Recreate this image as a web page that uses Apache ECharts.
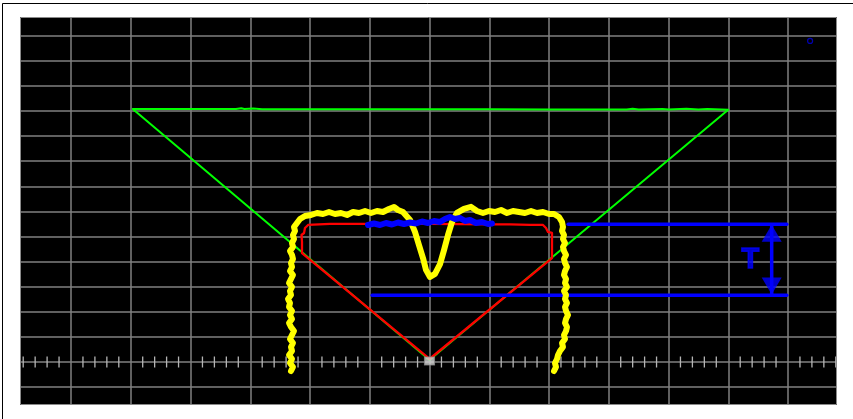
<!DOCTYPE html>
<html><head><meta charset="utf-8">
<script src="https://cdn.jsdelivr.net/npm/echarts@6/dist/echarts.min.js"></script>
<style>html,body{margin:0;padding:0;background:#fff}#c{width:853px;height:419px}</style>
</head><body><div id="c"></div>
<script>
// Green reference triangle (divisions)
const greenTrace = [[0,0.08],[-4.967,10.08],[-3.5,10.08],[-3.30,10.08],[-3.28,10.12],[-3.24,10.08],[-3.15,10.11],[-3.10,10.08],[-2.95,10.1],[-2.80,10.07],[-2.0,10.07],[-1.0,10.07],[0,10.07],[1.0,10.07],[2.0,10.06],[3.3,10.06],[3.40,10.09],[3.5,10.06],[3.9,10.08],[4.0,10.06],[4.3,10.09],[4.5,10.06],[4.65,10.08],[5.0,10.05],[0,0.08]];
// Red trace
const redTrace = [[0,0.12],[-2.134,4.34],[-2.134,4.78],[-2.142,5.06],[-2.100,5.14],[-2.084,5.34],[-2.033,5.46],[-1.665,5.50],[-1.331,5.50],[-0.996,5.50],[0.008,5.50],[1.013,5.48],[1.347,5.48],[1.682,5.46],[1.900,5.46],[1.950,5.34],[1.983,5.18],[2.050,5.14],[2.050,4.66],[2.050,4.14],[0,0.12]];
// Yellow measured profile
const yellowTrace = [
  [-2.318,-0.359],[-2.285,-0.199],[-2.335,-0.040],[-2.301,0.120],[-2.351,0.279],[-2.301,0.438],[-2.318,0.598],[-2.285,0.757],[-2.335,0.916],[-2.301,1.076],[-2.268,1.235],[-2.318,1.394],[-2.351,1.554],[-2.301,1.713],[-2.335,1.873],[-2.301,2.032],[-2.351,2.191],[-2.335,2.351],[-2.368,2.510],[-2.318,2.669],[-2.335,2.829],[-2.301,2.988],[-2.351,3.147],[-2.318,3.307],[-2.285,3.466],[-2.335,3.625],[-2.301,3.785],[-2.318,3.944],[-2.285,4.104],[-2.301,4.263],[-2.335,4.422],[-2.285,4.582],[-2.301,4.741],[-2.268,4.900],[-2.285,5.060],[-2.251,5.219],[-2.268,5.378],[-2.218,5.538],[-2.167,5.697],[-2.084,5.817],
  [-1.983,5.857],[-1.883,5.936],[-1.782,5.896],[-1.682,5.976],[-1.582,5.896],[-1.481,5.936],[-1.381,5.857],[-1.280,5.976],[-1.180,5.936],[-1.079,6.016],[-0.979,5.936],[-0.879,6.016],[-0.778,5.976],[-0.678,6.096],[-0.594,6.175],[-0.527,6.056],[-0.444,5.976],
  [-0.326,5.66],[-0.243,5.18],[-0.176,4.66],[-0.109,4.14],[-0.059,3.67],[0.008,3.39],[0.092,3.51],[0.176,3.90],[0.243,4.46],[0.310,5.06],[0.377,5.58],[0.460,5.94],[0.577,6.10],[0.695,6.18],
  [0.795,6.016],[0.895,5.936],[0.996,6.016],[1.096,5.976],[1.197,6.056],[1.297,5.936],[1.397,6.016],[1.498,5.976],[1.598,5.936],[1.699,6.016],[1.799,5.936],[1.900,5.976],[2.000,5.896],[2.084,5.896],
  [2.167,5.777],[2.218,5.578],[2.234,5.378],[2.218,5.219],[2.251,5.060],[2.234,4.900],[2.268,4.741],[2.234,4.582],[2.251,4.422],[2.285,4.263],[2.251,4.104],[2.268,3.944],[2.301,3.785],[2.268,3.625],[2.251,3.466],[2.285,3.307],[2.268,3.147],[2.301,2.988],[2.251,2.829],[2.285,2.669],[2.268,2.510],[2.301,2.351],[2.268,2.191],[2.285,2.032],[2.318,1.873],[2.285,1.713],[2.268,1.554],[2.301,1.394],[2.285,1.235],[2.251,1.076],[2.268,0.916],[2.218,0.757],[2.234,0.598],[2.184,0.438],[2.151,0.279],[2.134,0.120],[2.100,-0.040],[2.117,-0.199],[2.084,-0.359]];
// Blue thick segment
const blueTrace = [[-1.029,5.458],[-0.929,5.518],[-0.828,5.458],[-0.728,5.538],[-0.628,5.478],[-0.527,5.558],[-0.427,5.498],[-0.326,5.558],[-0.226,5.518],[-0.126,5.598],[-0.025,5.538],[0.075,5.618],[0.176,5.578],[0.259,5.697],[0.343,5.777],[0.427,5.697],[0.510,5.737],[0.594,5.618],[0.678,5.657],[0.778,5.538],[0.879,5.578],[0.979,5.498],[1.046,5.518]];
// Level lines and T arrow
const upperLevel = [[2.32,5.49],[5.98,5.49]];
const lowerLevel = [[-0.96,2.66],[5.98,2.66]];
const arrowTips = [[5.727,5.47],[5.727,2.69]];
const labelT = [[5.372,4.08,'T']];
const marker = [[6.37,12.79]];
const origin = [[0,0.04]];

const minorTicks = [];
for (let k = -34; k <= 34; k++) { if (k % 5 !== 0) minorTicks.push([k * 0.2, 0]); }

const chart = echarts.init(document.getElementById('c'), null, {renderer: 'canvas'});
const gridLine = {show: true, lineStyle: {color: '#808080', width: 1.5}};
const ln = (data, color, width, z) => ({type: 'line', data, symbol: 'none', showSymbol: false, z,
  lineStyle: {color, width, cap: 'round', join: 'round'}, silent: true, animation: false});
chart.setOption({
  animation: false,
  grid: {left: 11.25, right: 5.25, top: 10.6, bottom: 6.8, show: true, backgroundColor: '#000', borderWidth: 0},
  xAxis: {type: 'value', min: -7, max: 7, interval: 1, axisLine: {show: false}, axisTick: {show: false}, axisLabel: {show: false}, splitLine: gridLine},
  yAxis: {type: 'value', min: -2, max: 14, interval: 1, axisLine: {show: false}, axisTick: {show: false}, axisLabel: {show: false}, splitLine: gridLine},
  series: [
    {type: 'custom', data: minorTicks, encode: {x: 0, y: 1}, z: 1, silent: true,
      renderItem: (params, api) => {
        const p = api.coord([api.value(0), 0]);
        return {type: 'line', shape: {x1: p[0], y1: p[1] - 5.5, x2: p[0], y2: p[1] + 5.5}, style: {stroke: '#b4b4b4', lineWidth: 1.3}};
      }},
    ln(greenTrace, '#00ff00', 2, 2),
    ln(redTrace, '#ff0000', 2.3, 3),
    ln(upperLevel, '#0000ff', 3.5, 4),
    ln(lowerLevel, '#0000ff', 3.5, 4),
    ln(yellowTrace, '#ffff00', 6, 5),
    ln(blueTrace, '#0000ff', 6, 6),
    ln(arrowTips, '#0000ff', 3.5, 4),
    {type: 'scatter', data: [arrowTips[0]], symbol: 'triangle', symbolSize: [20, 17], symbolOffset: [0, '50%'], itemStyle: {color: '#0000ff'}, z: 4, silent: true},
    {type: 'scatter', data: [arrowTips[1]], symbol: 'triangle', symbolSize: [20, 17], symbolRotate: 180, symbolOffset: [0, '-50%'], itemStyle: {color: '#0000ff'}, z: 4, silent: true},
    {type: 'scatter', data: labelT, symbolSize: 1, itemStyle: {color: 'transparent'}, z: 4, silent: true,
      label: {show: true, position: 'inside', formatter: p => p.value[2], color: '#0000ff', fontSize: 29, fontWeight: 'bold', fontFamily: 'Liberation Sans', textBorderColor: '#0000ff', textBorderWidth: 1.5}},
    {type: 'scatter', data: marker, symbol: 'circle', symbolSize: 5, itemStyle: {color: 'transparent', borderColor: '#0000dd', borderWidth: 1.2}, z: 4, silent: true},
    {type: 'scatter', data: origin, symbol: 'rect', symbolSize: [10, 8], itemStyle: {color: '#d4d4d4', borderColor: '#8a8a8a', borderWidth: 1}, z: 7, silent: true}
  ],
  graphic: [
    {type: 'rect', shape: {x: 0, y: 0, width: 853, height: 17}, style: {fill: '#fff'}, z: 100, silent: true},
    {type: 'rect', shape: {x: 0, y: 405, width: 853, height: 14}, style: {fill: '#fff'}, z: 100, silent: true},
    {type: 'rect', shape: {x: 0, y: 0, width: 20, height: 419}, style: {fill: '#fff'}, z: 100, silent: true},
    {type: 'rect', shape: {x: 837, y: 0, width: 16, height: 419}, style: {fill: '#fff'}, z: 100, silent: true},
    {type: 'rect', shape: {x: 20.5, y: 17.5, width: 816, height: 387}, style: {fill: 'none', stroke: '#8a8a8a', lineWidth: 1}, z: 101, silent: true},
    {type: 'line', shape: {x1: 2.5, y1: 3.5, x2: 853, y2: 3.5}, style: {stroke: '#000', lineWidth: 1}, z: 101, silent: true},
    {type: 'line', shape: {x1: 2.5, y1: 3.5, x2: 2.5, y2: 419}, style: {stroke: '#000', lineWidth: 1}, z: 101, silent: true}
  ]
});
</script>
</body></html>
